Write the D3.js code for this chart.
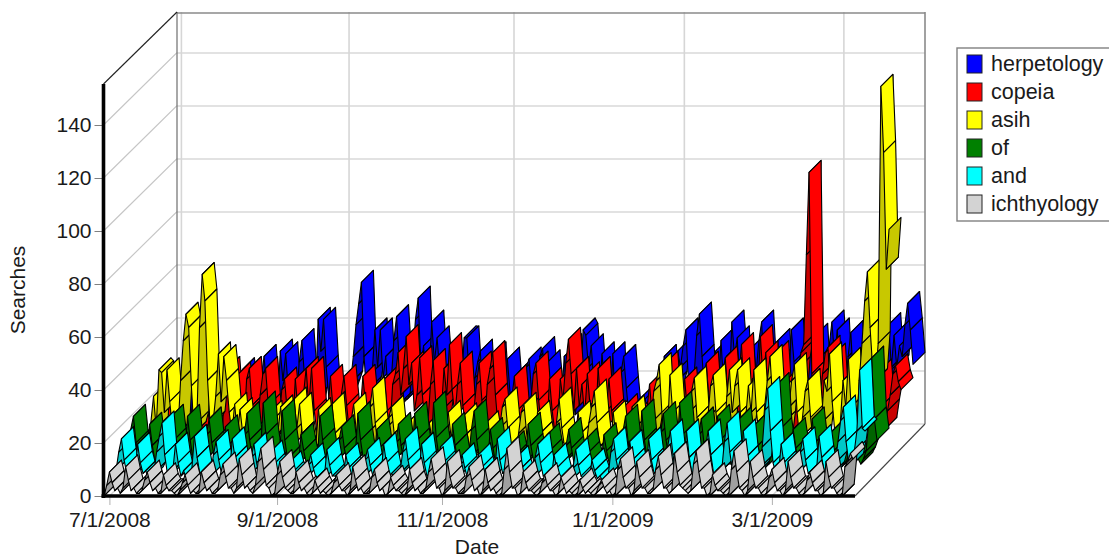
<!DOCTYPE html>
<html>
<head>
<meta charset="utf-8">
<script src="https://cdn.jsdelivr.net/npm/d3@7"></script>
<style>
  body { margin: 0; background: #fff; }
  text { font-family: "Liberation Sans", Arial, sans-serif; font-size: 21px; fill: #1a1a1a; }
</style>
</head>
<body>
<div id="chart"></div>
<script>
const seriesNames = ["herpetology", "copeia", "asih", "of", "and", "ichthyology"];
const brightColors = ["#0000ff", "#ff0000", "#ffff00", "#008000", "#00ffff", "#d3d3d3"];
const darkColors = ["#0000c8", "#c80000", "#c8c800", "#006400", "#00c8c8", "#a0a0a0"];

const tickLabels = ["7/1/2008", "9/1/2008", "11/1/2008", "1/1/2009", "3/1/2009"];
const tickDays = [2, 64, 125, 188, 247];
const searchTicks = [0, 20, 40, 60, 80, 100, 120, 140];

// seven values per week, starting Sunday 6/29/2008
const herpetology = [
  3,11,15,8,3,4,2, 5,14,17,9,4,5,3, 6,20,14,19,10,4,4, 7,18,23,13,5,6,4,
  8,25,17,24,13,5,5, 9,22,30,18,7,8,6, 10,32,21,31,17,8,7, 12,28,36,22,9,10,9,
  14,44,32,44,26,14,8, 10,16,12,18,14,17,20, 30,42,50,58,30,14,18, 24,40,26,40,22,30,14,
  20,36,45,28,12,14,14, 16,30,44,52,26,34,16, 20,43,28,37,24,12,14, 14,12,18,22,30,20,37,
  37,20,9,22,28,32,12, 12,28,18,31,16,7,10, 12,29,16,7,20,24,10, 12,26,29,16,7,16,30,
  33,20,28,16,7,8,10, 12,30,16,34,18,8,14, 18,40,38,26,34,20,14, 14,31,18,8,9,31,10,
  10,24,30,18,7,8,8, 8,14,10,14,8,14,8, 10,26,18,30,16,8,16, 20,32,26,34,40,20,18,
  22,38,46,30,14,24,16, 18,32,18,36,18,30,16, 43,30,37,18,8,18,12, 16,34,24,36,43,24,14,
  16,28,22,36,18,30,14, 18,40,28,14,20,28,12, 18,34,24,38,20,30,16, 20,34,43,30,40,20,14,
  18,30,39,20,9,22,12, 14,28,34,18,8,20,16, 22,36,42,26,38,26,34, 30,42,50,40,27
];
const copeia = [
  2,9,12,6,3,4,2, 4,15,9,4,5,2,3, 5,18,11,4,6,3,4, 6,20,14,24,12,6,26,
  30,16,7,8,28,16,8, 26,30,16,7,8,20,28, 30,16,7,8,4,10,22, 26,14,7,7,26,14,7,
  20,30,16,30,14,6,6, 5,8,14,27,14,6,4, 20,27,16,6,7,3,5, 14,27,16,6,7,3,5,
  8,16,26,14,6,24,28, 36,20,30,42,24,32,14, 20,34,20,8,9,24,33, 16,7,14,30,20,39,22,
  12,24,32,16,7,8,5, 14,24,32,18,8,24,30, 36,20,8,9,4,6,5, 18,27,14,6,7,3,5,
  16,28,32,18,7,8,5, 26,14,6,7,26,18,32, 41,28,14,30,16,24,12, 28,16,7,8,30,16,7,
  14,26,14,6,7,3,4, 16,8,4,4,13,6,4, 5,14,24,12,5,22,10, 20,32,18,7,8,22,10,
  16,26,14,6,7,20,10, 14,28,32,18,7,8,6, 20,28,34,20,8,9,6, 26,39,20,8,9,26,12,
  20,42,26,36,16,7,7, 36,20,8,9,26,14,7, 16,30,36,39,73,104,28, 14,8,18,28,36,38,18,
  35,18,8,9,4,18,10, 12,24,14,6,7,20,10, 14,24,18,29,16,7,14, 20,28,31,25,22
];
const asih = [
  2,5,10,7,14,24,12, 34,33,18,34,22,12,8, 10,30,45,55,50,28,10, 14,50,70,60,30,12,14,
  24,40,22,39,30,18,10, 21,10,19,10,4,6,3, 3,8,5,3,4,12,18, 8,16,10,20,10,4,4,
  12,23,12,21,10,4,3, 3,8,5,19,10,4,3, 12,21,10,4,5,2,3, 8,14,21,11,4,5,3,
  10,20,27,14,5,6,3, 12,16,20,10,4,4,2, 7,14,8,3,4,2,3, 3,9,14,8,3,4,2,
  8,12,18,9,4,4,2, 7,17,10,4,4,2,2, 3,9,14,8,3,4,2, 12,20,23,12,5,5,3,
  10,18,21,10,4,4,3, 18,10,4,5,2,9,3, 14,23,12,5,5,3,2, 8,18,10,4,5,14,20,
  26,14,5,6,3,3,2, 18,9,4,4,2,9,10, 20,12,5,6,3,14,8, 14,26,30,36,18,8,8,
  32,18,8,8,4,14,8, 18,26,31,16,7,8,5, 16,28,32,18,8,8,5, 24,34,18,28,34,18,8,
  16,28,18,34,18,9,6, 20,30,39,22,10,9,6, 14,28,20,30,36,18,8, 16,26,30,16,7,8,5,
  14,30,26,40,22,10,6, 14,30,20,38,20,10,12, 30,44,60,71,50,34,30, 44,141,116,72,87
];
const ofTerm = [
  5,16,21,11,5,6,3, 5,18,10,4,6,3,3, 5,15,21,12,5,6,3, 6,21,12,5,6,3,3,
  4,14,20,11,5,5,3, 4,17,10,4,5,3,3, 5,14,22,12,5,6,3, 7,26,14,6,6,3,3,
  5,23,12,5,6,3,3, 3,14,8,3,4,2,2, 4,21,12,5,6,3,3, 4,12,17,9,4,5,3,
  5,22,12,5,6,3,3, 4,16,9,4,5,2,3, 4,11,18,10,4,5,3, 5,22,12,5,6,3,3,
  6,26,13,6,6,3,3, 4,18,10,4,5,2,3, 5,16,23,12,5,6,3, 4,16,9,3,5,2,2,
  2,8,11,6,2,3,2, 4,18,10,4,5,2,3, 3,14,8,3,4,2,2, 4,10,16,9,3,4,2,
  3,12,7,3,3,1,2, 3,14,8,3,4,2,3, 4,15,21,11,5,6,3, 5,23,12,5,6,3,3,
  5,15,22,12,5,6,3, 5,26,14,6,6,3,3, 5,14,20,11,4,5,3, 5,21,12,5,6,3,3,
  5,14,20,11,4,5,3, 5,18,10,4,5,2,3, 8,26,33,16,8,6,3, 4,16,9,3,5,2,3,
  5,20,11,4,5,3,3, 4,15,8,3,4,2,3, 5,16,10,4,5,3,5, 8,20,43,20,12
];
const andTerm = [
  5,12,17,9,4,5,2, 4,15,8,4,5,2,2, 4,12,18,23,11,4,3, 5,15,8,3,5,2,2,
  5,18,10,4,5,2,2, 3,11,16,9,4,4,2, 4,17,10,4,5,2,2, 3,10,15,8,3,4,2,
  2,12,7,3,3,1,1, 1,8,4,2,2,1,1, 2,7,11,6,2,3,2, 2,13,7,3,3,1,2,
  2,11,6,2,3,1,1, 2,9,13,7,3,3,2, 3,15,8,3,4,2,2, 4,12,17,9,4,3,2,
  3,15,8,3,4,2,2, 3,14,8,3,4,2,2, 2,7,11,6,2,3,2, 2,11,6,2,3,1,2,
  3,17,9,4,4,2,2, 2,10,5,2,2,1,1, 2,10,15,8,3,3,2, 2,11,6,2,3,1,1,
  1,6,13,7,3,2,0, 1,9,5,2,3,1,2, 3,12,17,9,4,4,2, 3,16,9,4,4,2,3,
  4,17,9,4,5,2,3, 4,14,20,11,4,5,3, 4,20,10,4,5,2,3, 4,14,20,11,4,5,4,
  5,16,23,12,5,4,3, 5,20,10,4,5,2,4, 6,14,28,36,20,8,4, 4,15,8,3,4,2,3,
  4,12,17,9,4,4,3, 4,18,10,4,5,2,4, 8,16,24,29,16,8,7, 12,20,43,21,20
];
const ichthyology = [
  0,4,9,5,2,3,1, 3,11,6,2,3,1,1, 2,6,9,5,2,3,1, 1,8,4,2,2,1,0,
  2,5,8,4,1,2,1, 1,9,5,2,3,1,1, 2,8,12,7,3,3,1, 3,14,8,3,4,2,1,
  4,13,18,10,4,3,0, 0,8,13,7,3,2,1, 1,9,5,2,3,1,0, 1,6,3,1,2,1,0,
  1,5,8,4,2,2,0, 2,11,6,2,3,1,1, 1,7,10,5,2,3,0, 1,7,4,2,2,1,0,
  2,10,5,2,3,1,1, 3,9,14,8,3,3,0, 2,13,7,3,3,1,1, 1,7,11,6,2,3,0,
  2,10,5,2,3,1,0, 0,10,18,9,3,3,0, 1,9,5,2,2,1,0, 1,5,8,4,2,2,0,
  1,7,4,1,2,1,0, 0,6,3,1,2,1,0, 1,4,6,3,1,2,0, 0,10,14,7,3,3,0,
  2,13,7,3,3,1,1, 2,10,15,8,3,3,1, 2,16,9,4,3,2,1, 2,12,17,9,3,3,0,
  0,8,4,2,2,1,0, 0,10,17,9,3,2,0, 2,13,7,3,3,1,0, 1,7,10,5,2,2,0,
  2,13,7,3,3,1,0, 1,6,9,5,2,2,0, 1,13,7,3,3,1,0, 0,11,13,16,14
];

const seriesValues = [herpetology, copeia, asih, ofTerm, andTerm, ichthyology];

const width = 1109, height = 558;
const depth = 72, ribbon = depth / seriesNames.length;

const x = d3.scaleLinear().domain([0, herpetology.length - 1]).range([104, 853]);
const y = d3.scaleLinear().domain([0, 140]).range([496, 125]);
const yTop = 84, xLeft = 103.5, xRight = 855;

const svg = d3.select("#chart").append("svg")
  .attr("width", width)
  .attr("height", height)
  .style("display", "block");

// walls and floor
const grid = svg.append("g").attr("fill", "none");

grid.selectAll(".hgrid")
  .data(searchTicks)
  .join("polyline")
  .attr("points", d => `${xLeft},${y(d)} ${xLeft + 73},${y(d) - depth} 925,${y(d) - depth}`)
  .attr("stroke", "#c6c6c6")
  .attr("stroke-width", 1.2);

grid.selectAll(".vgrid")
  .data(tickDays)
  .join("polyline")
  .attr("points", d => `${x(d)},${y(0)} ${x(d) + depth},${y(0) - depth} ${x(d) + depth},${yTop - depth}`)
  .attr("stroke", "#d6d6d6")
  .attr("stroke-width", 1.6);

grid.append("line")
  .attr("x1", 177).attr("x2", 925).attr("y1", yTop - depth + 1).attr("y2", yTop - depth + 1)
  .attr("stroke", "#8a8a8a").attr("stroke-width", 1.4);
grid.append("line")
  .attr("x1", 177).attr("x2", 177).attr("y1", yTop - depth).attr("y2", 424)
  .attr("stroke", "#6e6e6e").attr("stroke-width", 1.2);
grid.append("line")
  .attr("x1", 925).attr("x2", 925).attr("y1", yTop - depth).attr("y2", 424)
  .attr("stroke", "#8a8a8a").attr("stroke-width", 1.6);
grid.append("line")
  .attr("x1", xLeft).attr("x2", 177).attr("y1", yTop).attr("y2", yTop - depth)
  .attr("stroke", "#222").attr("stroke-width", 1.1);
grid.append("line")
  .attr("x1", xRight).attr("x2", 925).attr("y1", y(0)).attr("y2", 424)
  .attr("stroke", "#444").attr("stroke-width", 1.1);

// ribbons, back series first, each one painted left to right
const quad = d3.line();

seriesValues.forEach((values, s) => {
  const z0 = (seriesNames.length - 1 - s) * ribbon;
  const z1 = z0 + ribbon;
  const segments = d3.pairs(values.map((v, i) => [i, v]));

  svg.append("g")
    .selectAll("path")
    .data(segments)
    .join("path")
    .attr("d", ([a, b]) => quad([
      [x(a[0]) + z0, y(a[1]) - z0],
      [x(b[0]) + z0, y(b[1]) - z0],
      [x(b[0]) + z1, y(b[1]) - z1],
      [x(a[0]) + z1, y(a[1]) - z1]
    ]) + "Z")
    .attr("fill", ([a, b]) => (y(a[1]) - y(b[1]) > x(b[0]) - x(a[0]) ? darkColors[s] : brightColors[s]))
    .attr("stroke", "#000")
    .attr("stroke-width", 1.1)
    .attr("stroke-linejoin", "round");
});

// axes
const yAxis = svg.append("g")
  .attr("transform", `translate(${xLeft},0)`)
  .call(d3.axisLeft(y).tickValues(searchTicks).tickSize(9).tickPadding(3));
yAxis.select(".domain").remove();
yAxis.selectAll("line").attr("stroke", "#808080");

const xAxis = svg.append("g")
  .attr("transform", `translate(0,${y(0)})`)
  .call(d3.axisBottom(x).tickValues(tickDays).tickSize(9).tickPadding(7)
    .tickFormat((d, i) => tickLabels[i]));
xAxis.select(".domain").remove();
xAxis.selectAll("line").attr("stroke", "#b0b0b0");
svg.selectAll(".tick text").style("font-size", "21px").style("font-family", '"Liberation Sans", Arial, sans-serif').attr("fill", "#1a1a1a");

svg.append("line")
  .attr("x1", xLeft).attr("x2", xLeft).attr("y1", yTop).attr("y2", y(0) + 2)
  .attr("stroke", "#000").attr("stroke-width", 3.6);
svg.append("line")
  .attr("x1", xLeft - 2).attr("x2", xRight).attr("y1", y(0)).attr("y2", y(0))
  .attr("stroke", "#000").attr("stroke-width", 3.6);

svg.append("text")
  .attr("x", 477)
  .attr("y", 554)
  .attr("text-anchor", "middle")
  .text("Date");

svg.append("text")
  .attr("transform", "rotate(-90)")
  .attr("x", -290)
  .attr("y", 25)
  .attr("text-anchor", "middle")
  .text("Searches");

// legend
const legend = svg.append("g");
legend.append("rect")
  .attr("x", 957).attr("y", 48).attr("width", 160).attr("height", 173)
  .attr("fill", "#fff").attr("stroke", "#808080").attr("stroke-width", 1.4);

const rows = legend.selectAll(".row")
  .data(seriesNames)
  .join("g")
  .attr("transform", (d, i) => `translate(967,${55 + i * 28})`);
rows.append("rect")
  .attr("width", 15).attr("height", 18)
  .attr("fill", (d, i) => brightColors[i])
  .attr("stroke", "#222").attr("stroke-width", 1);
rows.append("text")
  .attr("x", 24).attr("y", 16)
  .style("font-size", "21.5px")
  .text(d => d);
</script>
</body>
</html>
